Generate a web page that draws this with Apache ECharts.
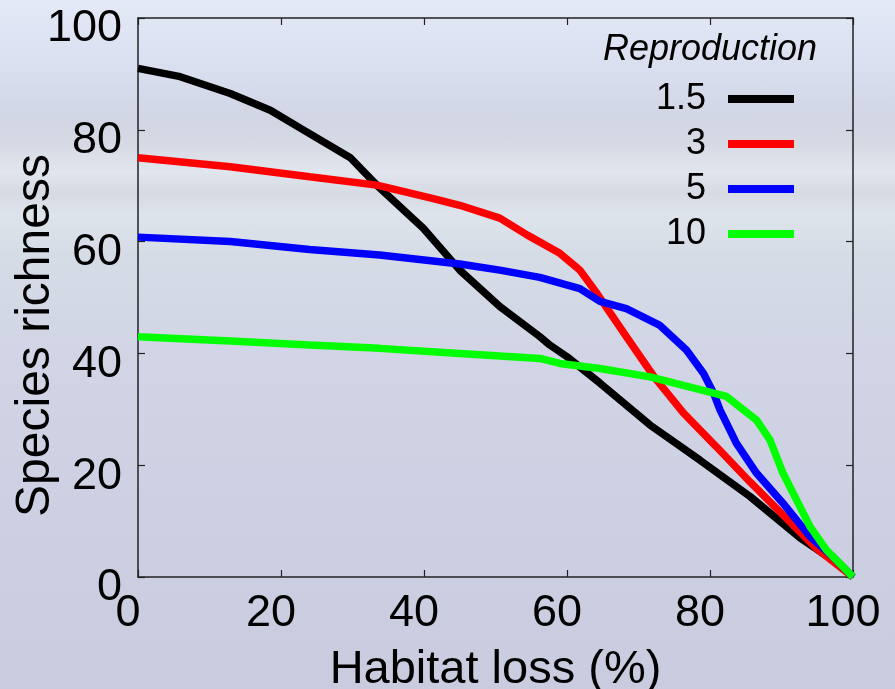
<!DOCTYPE html>
<html>
<head>
<meta charset="utf-8">
<script src="https://cdn.jsdelivr.net/npm/echarts@6/dist/echarts.min.js"></script>
<style>
  html, body { margin: 0; padding: 0; }
  #chart {
    width: 895px; height: 689px;
    background: linear-gradient(to bottom,
      #e4e9f7 0%, #dadff0 10%, #d1d5e4 17%, #d6dae4 21%, #e1e6ee 25%,
      #d6dae3 28%, #dee4eb 31%, #d6dce6 37%, #d1d5e5 50%, #c9cbdf 100%);
  }
</style>
</head>
<body>
<div id="chart"></div>
<script>
// Reproduction levels (legend)
var reproNames = ['1.5', '3', '5', '10'];
var lineColors = ['#000000', '#ff0000', '#0000ff', '#00ff00'];

// habitat loss (%) -> species richness
var lossR15 = [0, 5.9, 12.9, 18.5, 22.7, 29.7, 33.4, 39.9, 45, 50.6, 56.2, 57.6, 60, 64.6, 71.6, 78.6, 85.6, 92.6, 97.8, 100];
var richR15 = [91, 89.5, 86.5, 83.5, 80.3, 75, 70.1, 62.4, 54.9, 48.4, 43, 41.5, 39.4, 34.7, 27.2, 20.9, 14.4, 7, 2.5, 0];

var lossR3 = [0, 12.9, 24, 33.4, 41.3, 45, 50.6, 54.4, 59, 61.8, 64.2, 68.3, 72.3, 74.4, 76.3, 80.9, 85.6, 90.2, 94.9, 100];
var richR3 = [75, 73.4, 71.6, 70.1, 67.7, 66.5, 64.2, 61.2, 57.9, 54.9, 50.7, 43, 35.6, 32.3, 29.3, 23.3, 17, 11.1, 5.1, 0];

var lossR5 = [0, 12.9, 24, 33.8, 45, 50.6, 56.2, 61.8, 64.6, 68.3, 73, 76.7, 79.1, 80.5, 81.4, 83.7, 86.5, 90.2, 94, 97.2, 100];
var richR5 = [60.8, 60, 58.6, 57.6, 56, 54.9, 53.6, 51.6, 49.3, 48, 45, 40.6, 36.4, 32.9, 29.9, 23.9, 18.6, 13.2, 7.2, 3.6, 0];

var lossR10 = [0, 12.9, 24, 33.8, 45, 56.2, 59, 64.6, 71.6, 78.6, 82.3, 86.5, 88.4, 90.2, 92.1, 94, 96.3, 100];
var richR10 = [43, 42.2, 41.5, 40.9, 40, 39.1, 38.2, 37.3, 35.8, 33.5, 32.3, 28.1, 24.5, 18.6, 13.8, 9, 4.8, 0];

var xTicks = [0, 20, 40, 60, 80, 100];

var myChart = echarts.init(document.getElementById('chart'));

function zip(xs, ys) {
  return xs.map(function (x, i) { return [x, ys[i]]; });
}

var allLoss = [lossR15, lossR3, lossR5, lossR10];
var allRich = [richR15, richR3, richR5, richR10];

var font = 'Liberation Sans, Arial, sans-serif';
var axisColor = '#222222';

function mirrorAxis(position) {
  return {
    type: 'value',
    position: position,
    min: 0,
    max: 100,
    interval: 20,
    axisLine: { show: true, onZero: false, lineStyle: { color: axisColor, width: 1.5 } },
    axisTick: { show: true, inside: true, length: 7, lineStyle: { color: axisColor, width: 1.2 } },
    axisLabel: { show: false },
    splitLine: { show: false }
  };
}

var option = {
  backgroundColor: 'transparent',
  animation: false,
  title: {
    text: 'Reproduction',
    left: 603,
    top: 32,
    padding: 0,
    textStyle: { fontFamily: font, fontStyle: 'italic', fontWeight: 'normal', fontSize: 36, color: '#000' }
  },
  legend: {
    orient: 'vertical',
    align: 'right',
    right: 101,
    top: 81,
    padding: 0,
    icon: 'rect',
    itemWidth: 66,
    itemHeight: 8,
    itemGap: 9,
    data: reproNames,
    textStyle: { fontFamily: font, fontSize: 36, color: '#000', padding: [0, 17, 0, 0] }
  },
  grid: { left: 138, right: 42, top: 18, bottom: 112, containLabel: false, outerBoundsMode: 'none' },
  xAxis: [
    {
      type: 'value',
      position: 'bottom',
      min: 0,
      max: 100,
      interval: 20,
      name: 'Habitat loss (%)',
      nameLocation: 'middle',
      nameGap: 70,
      nameTextStyle: { fontFamily: font, fontSize: 47, color: '#000' },
      axisLine: { show: true, onZero: false, lineStyle: { color: axisColor, width: 1.5 } },
      axisTick: { show: true, inside: true, length: 7, lineStyle: { color: axisColor, width: 1.2 } },
      axisLabel: {
        fontFamily: font, fontSize: 45, color: '#000', margin: 14,
        padding: [0, 20, 0, 0],
        formatter: function (v) { return xTicks.indexOf(v) >= 0 ? String(v) : ''; }
      },
      splitLine: { show: false }
    },
    mirrorAxis('top')
  ],
  yAxis: [
    {
      type: 'value',
      position: 'left',
      min: 0,
      max: 100,
      interval: 20,
      name: 'Species richness',
      nameLocation: 'middle',
      nameRotate: 90,
      nameGap: 78,
      nameMoveOverlap: false,
      nameTextStyle: { fontFamily: font, fontSize: 48, color: '#000', padding: [0, 76, 0, 0] },
      axisLine: { show: true, onZero: false, lineStyle: { color: axisColor, width: 1.5 } },
      axisTick: { show: true, inside: true, length: 7, lineStyle: { color: axisColor, width: 1.2 } },
      axisLabel: {
        fontFamily: font, fontSize: 45, color: '#000', margin: 16,
        verticalAlign: 'top', lineHeight: 22
      },
      splitLine: { show: false }
    },
    mirrorAxis('right')
  ],
  series: reproNames.map(function (name, i) {
    return {
      name: name,
      type: 'line',
      xAxisIndex: 0,
      yAxisIndex: 0,
      showSymbol: false,
      symbol: 'none',
      color: lineColors[i],
      lineStyle: { width: 7.5, color: lineColors[i] },
      data: zip(allLoss[i], allRich[i]),
      z: 2 + i
    };
  })
};

myChart.setOption(option);
</script>
</body>
</html>
